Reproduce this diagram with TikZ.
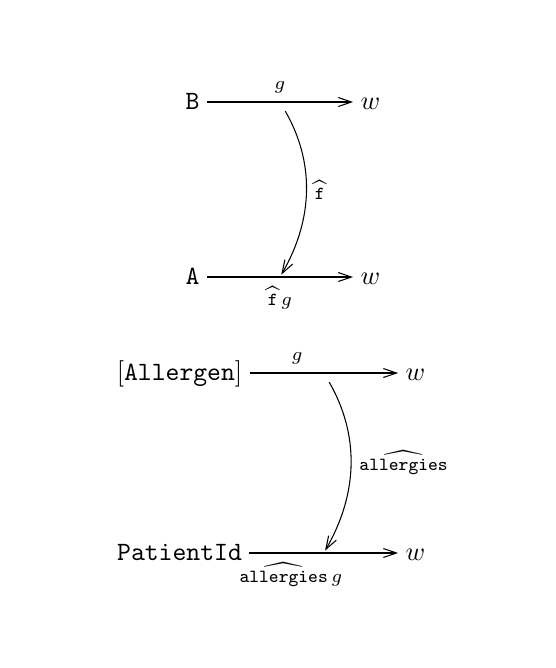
\documentclass[tikz,border=0pt]{standalone}
\usetikzlibrary{arrows.meta}

\begin{document}
\begin{tikzpicture}[
  obj/.style={inner sep=2.6pt,text height=1.5ex,text depth=.25ex},
  map/.style={-{Straight Barb[length=5pt,width=3.4pt]}},
  lbl/.style={font=\scriptsize},
]
\useasboundingbox (0,0) rectangle (7.389,8.893);
\node[obj] (b) at (2.563,7.535) {$\mathtt{B}$};
\node[obj] (wb) at (4.930,7.535) {$w$};
\node[obj] (a) at (2.563,5.205) {$\mathtt{A}$};
\node[obj] (wa) at (4.930,5.205) {$w$};
\node[obj] (al) at (2.390,3.927) {$[\mathtt{Allergen}]$};
\node[obj] (wal) at (5.530,3.927) {$w$};
\node[obj] (p) at (2.390,1.531) {$\mathtt{PatientId}$};
\node[obj] (wp) at (5.530,1.531) {$w$};
\draw[map] (b) -- node[lbl,above,pos=0.5]{$g$} coordinate[pos=0.5] (mb) (wb);
\draw[map] (a) -- node[lbl,below,pos=0.5]{$\widehat{\mathtt{f}}\,g$} coordinate[pos=0.5] (ma) (wa);
\draw[map,bend left=30,shorten <=4pt,shorten >=1pt] (mb) to node[lbl,right]{$\widehat{\mathtt{f}}$} (ma);
\draw[map] (al) -- node[lbl,above,pos=0.32]{$g$} coordinate[pos=0.5] (mal) (wal);
\draw[map] (p) -- node[lbl,below,pos=0.28]{$\widehat{\mathtt{allergies}}\,g$} coordinate[pos=0.5] (mp) (wp);
\draw[map,bend left=30,shorten <=4pt,shorten >=1pt] (mal) to node[lbl,right]{$\widehat{\mathtt{allergies}}$} (mp);
\end{tikzpicture}
\end{document}
